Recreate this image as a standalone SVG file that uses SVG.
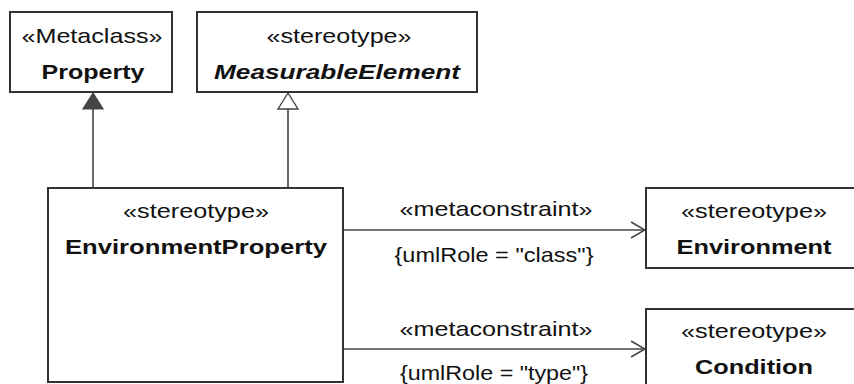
<svg xmlns="http://www.w3.org/2000/svg" width="854" height="384" viewBox="0 0 854 384">
<style>
.box{fill:#fff;stroke:#333;stroke-width:2}
.t{font-family:"Liberation Sans",Arial,sans-serif;font-size:21px;fill:#111;text-anchor:middle}
.b{font-weight:bold}
.i{font-style:italic}
.ln{fill:none;stroke:#444;stroke-width:1.6}
</style>
<defs>
<marker id="open" viewBox="0 0 16 18" refX="15" refY="9" markerWidth="16" markerHeight="18" markerUnits="userSpaceOnUse" orient="auto">
<path d="M1,1 L15,9 L1,17" fill="none" stroke="#444" stroke-width="1.6"/>
</marker>
</defs>
<rect width="854" height="384" fill="#fff"/>
<g id="connectors">
<line class="ln" x1="93" y1="188" x2="93" y2="109"/>
<polygon points="93,93 83,109 103,109" fill="#444" stroke="#444" stroke-width="1.2"/>
<line class="ln" x1="288" y1="188" x2="288" y2="109"/>
<polygon points="288,93 278,109 298,109" fill="#fff" stroke="#444" stroke-width="1.4"/>
<line class="ln" x1="343" y1="230" x2="645" y2="230" marker-end="url(#open)"/>
<text class="t" x="496" y="216" textLength="193" lengthAdjust="spacingAndGlyphs">«metaconstraint»</text>
<text class="t" x="494" y="262" textLength="199" lengthAdjust="spacingAndGlyphs">{umlRole = "class"}</text>
<line class="ln" x1="343" y1="349" x2="645" y2="349" marker-end="url(#open)"/>
<text class="t" x="496" y="336" textLength="193" lengthAdjust="spacingAndGlyphs">«metaconstraint»</text>
<text class="t" x="494" y="380" textLength="188" lengthAdjust="spacingAndGlyphs">{umlRole = "type"}</text>
</g>
<g id="Property">
<rect class="box" x="10" y="12" width="162" height="80"/>
<text class="t" x="92" y="43" textLength="141" lengthAdjust="spacingAndGlyphs">«Metaclass»</text>
<text class="t b" x="93" y="79" textLength="103" lengthAdjust="spacingAndGlyphs">Property</text>
</g>
<g id="MeasurableElement">
<rect class="box" x="197" y="12" width="280" height="80"/>
<text class="t" x="339" y="43" textLength="145" lengthAdjust="spacingAndGlyphs">«stereotype»</text>
<text class="t b i" x="337" y="79" textLength="246" lengthAdjust="spacingAndGlyphs">MeasurableElement</text>
</g>
<g id="EnvironmentProperty">
<rect class="box" x="48" y="188" width="295" height="194"/>
<text class="t" x="196" y="218" textLength="146" lengthAdjust="spacingAndGlyphs">«stereotype»</text>
<text class="t b" x="196" y="254" textLength="262" lengthAdjust="spacingAndGlyphs">EnvironmentProperty</text>
</g>
<g id="Environment">
<rect class="box" x="646" y="188" width="212" height="80"/>
<text class="t" x="754" y="218" textLength="146" lengthAdjust="spacingAndGlyphs">«stereotype»</text>
<text class="t b" x="754" y="254" textLength="155" lengthAdjust="spacingAndGlyphs">Environment</text>
</g>
<g id="Condition">
<rect class="box" x="646" y="309" width="212" height="80"/>
<text class="t" x="754" y="338" textLength="146" lengthAdjust="spacingAndGlyphs">«stereotype»</text>
<text class="t b" x="754" y="374" textLength="118" lengthAdjust="spacingAndGlyphs">Condition</text>
</g>
</svg>
